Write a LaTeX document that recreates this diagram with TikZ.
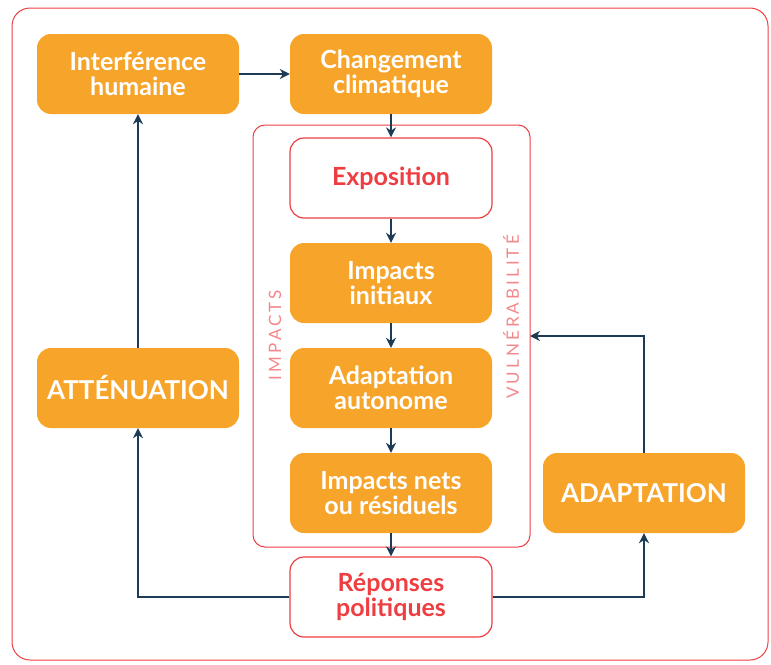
\documentclass[tikz,border=0pt]{standalone}
\usepackage{fontspec}
\setmainfont{Lato}
\newfontfamily\spacedfont[LetterSpace=18]{Lato}
\usetikzlibrary{arrows.meta}
\definecolor{boxorange}{HTML}{F7A42B}
\definecolor{arrowblue}{HTML}{1E3B55}
\definecolor{framered}{HTML}{EE3E42}
\definecolor{labelred}{HTML}{F4878A}
\begin{document}
\begin{tikzpicture}[x=1pt, y=-1pt,
  box/.style={rounded corners=14pt, minimum width=202pt, minimum height=80pt,
    align=center, font=\bfseries\fontsize{25}{25}\selectfont},
  orangebox/.style={box, fill=boxorange, text=white},
  whitebox/.style={box, draw=framered, line width=1.2pt, fill=white, text=framered},
  sidelabel/.style={rotate=90, text=labelred, font=\spacedfont\fontsize{17}{17}\selectfont},
  link/.style={-{Stealth[length=10pt,width=10pt]}, draw=arrowblue, line width=2pt}]
\useasboundingbox (0,0) rectangle (771,664);
% frames
\draw[framered, line width=1pt, rounded corners=18pt] (12,8) rectangle (768,660);
\draw[framered, line width=1pt, rounded corners=12pt] (253,125) rectangle (530,547);
\coordinate (vulnedge) at (530,336);
% boxes
\node[orangebox] (interf) at (138,74) {Interférence\\humaine};
\node[orangebox] (change) at (391,74) {Changement\\climatique};
\node[whitebox] (expo) at (391,178) {Exposition};
\node[orangebox] (initial) at (391,283) {Impacts\\initiaux};
\node[orangebox] (auto) at (391,388) {Adaptation\\autonome};
\node[orangebox] (nets) at (391,493) {Impacts nets\\ou résiduels};
\node[whitebox] (policy) at (391,597) {Réponses\\politiques};
\node[orangebox, font=\bfseries\fontsize{26}{26}\selectfont] (mitig) at (138,388) {ATTÉNUATION};
\node[orangebox, font=\bfseries\fontsize{26}{26}\selectfont] (adapt) at (644,493) {ADAPTATION};
% side labels
\node[sidelabel] (impactslabel) at (275,335) {IMPACTS};
\node[sidelabel] (vulnlabel) at (511,317) {VULNÉRABILITÉ};
% links
\draw[link] (interf) -- (change);
\foreach \a / \b in {change/expo, expo/initial, initial/auto, auto/nets, nets/policy}
{
  \draw[link] (\a) -- (\b);
}
\draw[link] (policy.west) -| (mitig.south);
\draw[link] (mitig.north) -- (interf.south);
\draw[link] (policy.east) -| (adapt.south);
\draw[link] (adapt.north) |- (vulnedge);
\end{tikzpicture}
\end{document}
